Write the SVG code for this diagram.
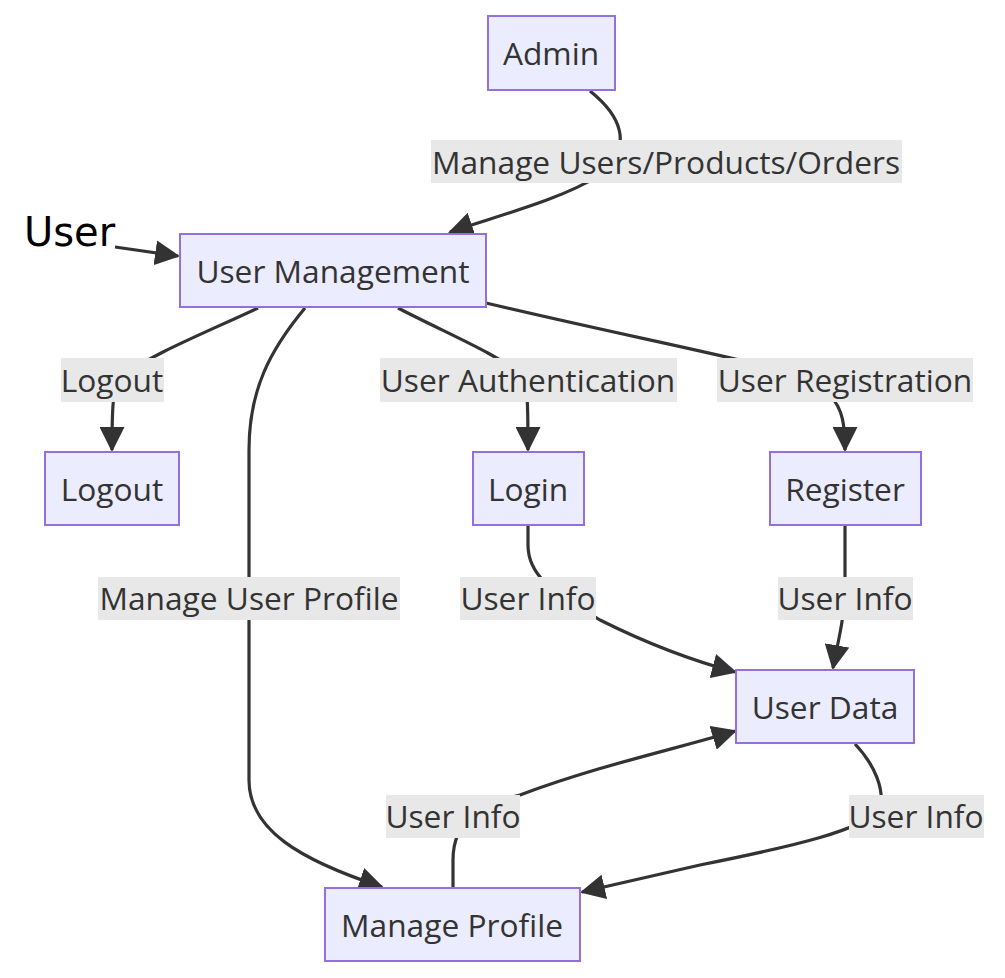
<svg xmlns="http://www.w3.org/2000/svg" width="1005" height="978" viewBox="0 0 1005 978">
<style>
.node rect{fill:#ECECFF;stroke:#9370DB;stroke-width:2}
.node text,.lbl text{font-family:"Open Sans","Noto Sans",sans-serif;font-size:31.7px;fill:#333;text-anchor:middle;dominant-baseline:central}
.edge{fill:none;stroke:#333;stroke-width:3.2}
.lbl rect{fill:#e8e8e8}
</style>
<defs>
<marker id="ah" markerUnits="userSpaceOnUse" markerWidth="25" markerHeight="25" viewBox="0 0 12 12" refX="11" refY="6" orient="auto">
<path d="M0,0 L12,6 L0,12 z" fill="#333"/>
</marker>
</defs>
<rect width="1005" height="978" fill="#fff"/>
<g id="connectors">
<path class="edge" marker-end="url(#ah)" d="M590,91 C620,115 635,145 600,175 C560,200 500,215 450,232"/>
<path class="edge" marker-end="url(#ah)" d="M115,247 L178,256"/>
<path class="edge" marker-end="url(#ah)" d="M258,308 C200,335 150,355 125,375 C112,390 112,400 112,450"/>
<path class="edge" marker-end="url(#ah)" d="M398,308 C450,335 500,355 520,375 C528,385 528,400 528,450"/>
<path class="edge" marker-end="url(#ah)" d="M486,303 C600,330 700,350 760,365 C835,385 845,400 845,450"/>
<path class="edge" marker-end="url(#ah)" d="M305,308 C270,350 249,390 249,450 L249,780 C249,830 300,860 382,887"/>
<path class="edge" marker-end="url(#ah)" d="M528,525 L528,545 C528,575 550,590 600,620 C650,645 690,660 735,672"/>
<path class="edge" marker-end="url(#ah)" d="M845,525 L845,580 C845,620 838,640 833,668"/>
<path class="edge" marker-end="url(#ah)" d="M453,887 L453,860 C453,820 480,805 520,795 C600,765 680,748 735,731"/>
<path class="edge" marker-end="url(#ah)" d="M855,744 C875,765 885,790 880,810 C860,830 800,845 700,865 L582,892"/>
</g>
<g id="edge-labels">
<g class="lbl"><rect x="431" y="140" width="471" height="43"/><text x="666" y="161">Manage Users/Products/Orders</text></g>
<g class="lbl"><rect x="61" y="358" width="103" height="44"/><text x="112" y="379">Logout</text></g>
<g class="lbl"><rect x="380" y="358" width="297" height="44"/><text x="528" y="379">User Authentication</text></g>
<g class="lbl"><rect x="717" y="358" width="256" height="44"/><text x="845" y="379">User Registration</text></g>
<g class="lbl"><rect x="98" y="577" width="302" height="43"/><text x="249" y="597">Manage User Profile</text></g>
<g class="lbl"><rect x="460" y="577" width="136" height="43"/><text x="528" y="597">User Info</text></g>
<g class="lbl"><rect x="778" y="577" width="135" height="43"/><text x="845" y="597">User Info</text></g>
<g class="lbl"><rect x="386" y="795" width="134" height="43"/><text x="453" y="815">User Info</text></g>
<g class="lbl"><rect x="849" y="795" width="135" height="43"/><text x="916" y="815">User Info</text></g>
</g>
<g id="user"><text x="24" y="246" font-family="'DejaVu Sans','Open Sans',sans-serif" font-size="40" fill="#000">User</text></g>
<g id="admin" class="node"><rect x="488" y="16" width="127" height="74"/><text x="551" y="52">Admin</text></g>
<g id="usermgmt" class="node"><rect x="180" y="234" width="306" height="73"/><text x="333" y="270">User Management</text></g>
<g id="logout" class="node"><rect x="45" y="452" width="134" height="73"/><text x="112" y="488">Logout</text></g>
<g id="login" class="node"><rect x="473" y="452" width="111" height="73"/><text x="528" y="488">Login</text></g>
<g id="register" class="node"><rect x="770" y="452" width="151" height="73"/><text x="845" y="488">Register</text></g>
<g id="userdata" class="node"><rect x="736" y="670" width="178" height="73"/><text x="825" y="706">User Data</text></g>
<g id="manageprofile" class="node"><rect x="325" y="888" width="255" height="73"/><text x="452" y="924">Manage Profile</text></g>
</svg>
